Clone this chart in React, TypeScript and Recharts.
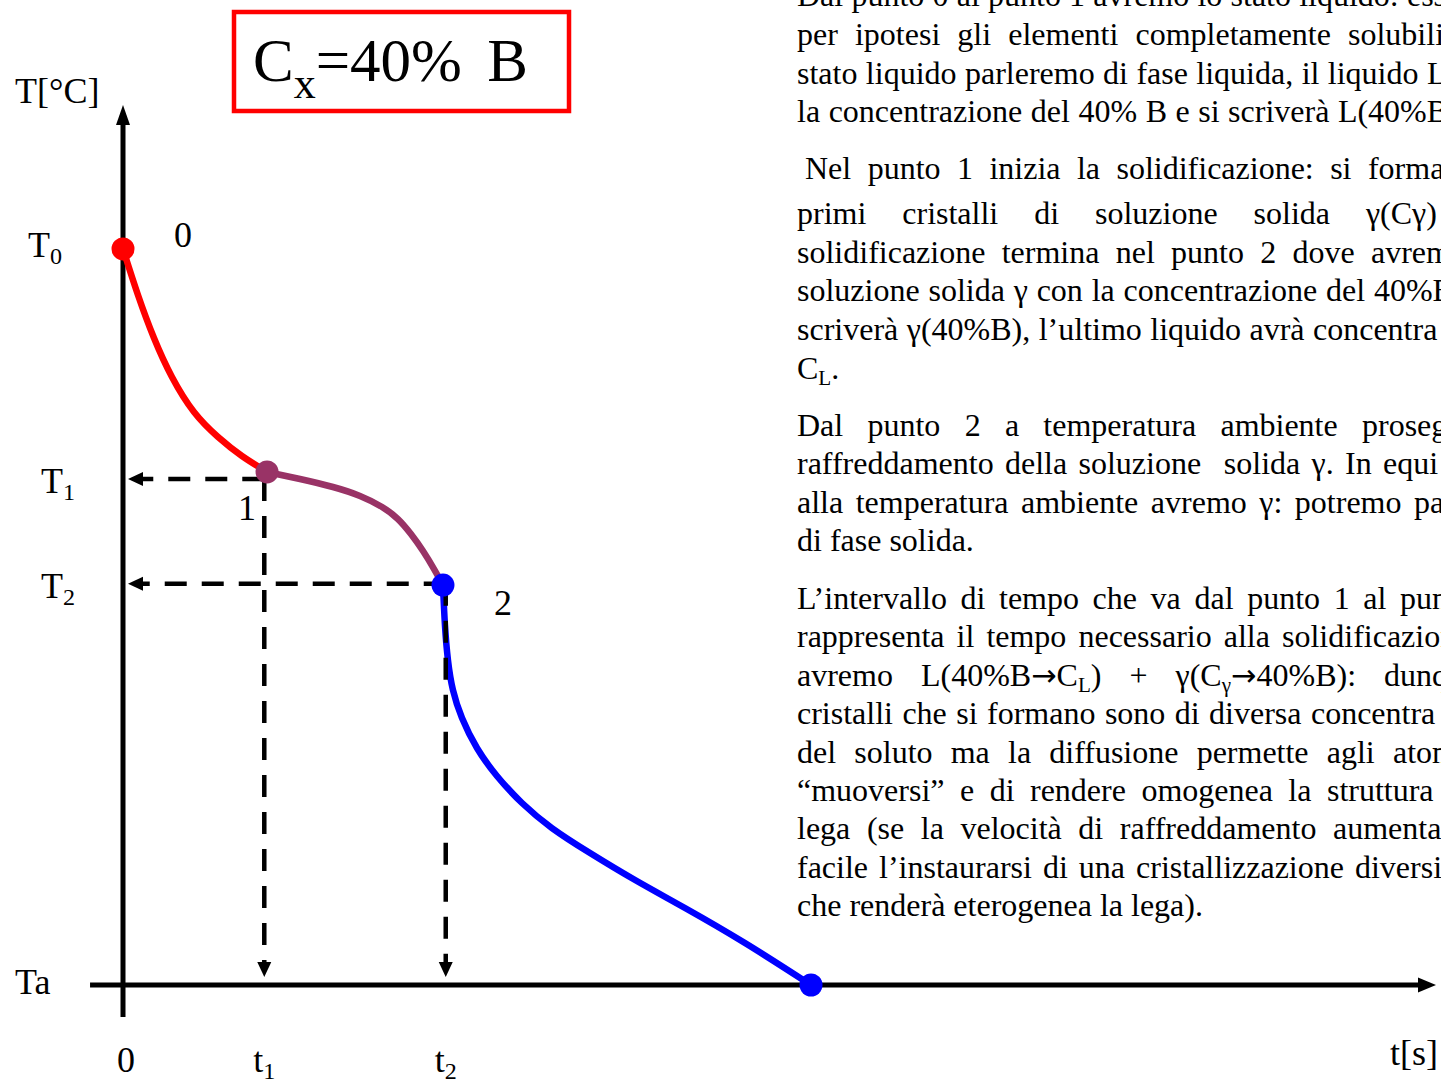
import React from "react";
import {
  ComposedChart,
  Line,
  XAxis,
  YAxis,
  ReferenceLine,
  ReferenceDot,
  Label,
} from "recharts";

// Cooling curve of an alloy with 40% B (time and temperature in arbitrary units)
const liquidTime = [0, 1.14, 2.36, 3.73, 5.41, 7.24, 9.06, 10.97];
const liquidTemp = [83.64, 78.41, 73.52, 69.09, 65.11, 62.27, 60.11, 58.3];

const mushyTime = [10.97, 13.48, 15.99, 18.05, 19.73, 20.94, 21.93, 22.85, 23.69, 24.37];
const mushyTemp = [58.3, 57.5, 56.59, 55.57, 54.32, 52.95, 51.25, 49.32, 47.27, 45.45];

const solidTime = [24.37, 24.52, 24.75, 25.13, 25.82, 26.96, 28.48, 30.39, 32.67, 35.57, 39.0, 42.8, 47.37, 52.4];
const solidTemp = [45.45, 40.91, 36.93, 33.52, 30.34, 26.93, 23.75, 20.68, 17.84, 15.0, 11.93, 8.75, 4.77, 0];

// Key points of the curve: 0 (start), 1 (start of solidification), 2 (end), room temperature
const keyTime = [0, 10.97, 24.37, 52.4];
const keyTemp = [83.64, 58.3, 45.45, 0];
const keyNames = ["0", "1", "2", ""];

// Characteristic temperatures and times
const T0 = 83.64;
const T1 = 57.5;
const T2 = 45.6;
const Ta = 0;
const t1 = 10.76;
const t2 = 24.58;

const yTickValues = [T0, T1, T2, Ta];
const yTickNames = ["T_0", "T_1", "T_2", "Ta"];
const xTickValues = [0, t1, t2];
const xTickNames = ["0", "t_1", "t_2"];

const yAxisName = "T[°C]";
const xAxisName = "t[s]";
const alloyTitle = { main: "C", sub: "x", rest: "=40%", tail: " B" };

// Explanatory text, line by line (justified lines carry the x where their last word begins)
type TextRow = { text: string; base: number; end?: number };
const paragraphLiquid: TextRow[] = [
  { text: "Dal punto 0 al punto 1 avremo lo stato liquido: ess", base: 6, end: 1407 },
  { text: "per ipotesi gli elementi completamente solubili", base: 45, end: 1348 },
  { text: "stato liquido parleremo di fase liquida, il liquido L", base: 84, end: 1427 },
  { text: "la concentrazione del 40% B e si scriverà L(40%B", base: 122, end: 1338 },
];
const paragraphSolidification: TextRow[] = [
  { text: "\u00a0Nel punto 1 inizia la solidificazione: si forma", base: 179, end: 1368 },
  { text: "primi cristalli di soluzione solida γ(Cγ)", base: 224, end: 1366 },
  { text: "solidificazione termina nel punto 2 dove avrem", base: 263, end: 1371 },
  { text: "soluzione solida γ con la concentrazione del 40%B", base: 301, end: 1374 },
  { text: "scriverà γ(40%B), l’ultimo liquido avrà concentra", base: 340, end: 1313 },
  { text: "C_{L}.", base: 379 },
];
const paragraphSolid: TextRow[] = [
  { text: "Dal punto 2 a temperatura ambiente proseg", base: 436, end: 1362 },
  { text: "raffreddamento della soluzione  solida γ. In equi", base: 474, end: 1383 },
  { text: "alla temperatura ambiente avremo γ: potremo pa", base: 513, end: 1414 },
  { text: "di fase solida.", base: 551 },
];
const paragraphInterval: TextRow[] = [
  { text: "L’intervallo di tempo che va dal punto 1 al pun", base: 609, end: 1400 },
  { text: "rappresenta il tempo necessario alla solidificazion", base: 647, end: 1282 },
  { text: "avremo L(40%B→C_{L}) + γ(C_{γ}→40%B): dunq", base: 686, end: 1384 },
  { text: "cristalli che si formano sono di diversa concentra", base: 724, end: 1311 },
  { text: "del soluto ma la diffusione permette agli atom", base: 763, end: 1393 },
  { text: "“muoversi” e di rendere omogenea la struttura", base: 801, end: 1327 },
  { text: "lega (se la velocità di raffreddamento aumenta", base: 839, end: 1333 },
  { text: "facile l’instaurarsi di una cristallizzazione diversi", base: 878, end: 1355 },
  { text: "che renderà eterogenea la lega).", base: 916 },
];

const zip = (xs: number[], ys: number[]) => xs.map((t, i) => ({ t, T: ys[i] }));
const liquidData = zip(liquidTime, liquidTemp);
const mushyData = zip(mushyTime, mushyTemp);
const solidData = zip(solidTime, solidTemp);

// ---- styling / layout ----
const SERIF = '"Liberation Serif", "Times New Roman", serif';
const W = 1441;
const H = 1079;
const RED = "#ff0000";
const PURPLE = "#993366";
const BLUE = "#0000ff";
const keyColors = [RED, PURPLE, BLUE, BLUE];
const keyLabelOffset = [
  [60, -2],
  [-20, 48],
  [60, 30],
  [0, 0],
];
const yLabelDx = [-95, -82, -82, -108];
const yLabelDy = [8, 14, 14, 9];

const TEXT_LEFT = 797;

function SubText({ x, y, text, size, anchor }: { x: number; y: number; text: string; size: number; anchor: "start" | "middle" | "end" }) {
  const [main, sub] = text.split("_");
  return (
    <text x={x} y={y} fontSize={size} textAnchor={anchor} fontFamily={SERIF} fill="#000">
      {main}
      {sub !== undefined && (
        <tspan fontSize={size * 0.67} dy={size * 0.2}>
          {sub}
        </tspan>
      )}
    </text>
  );
}

const YTick = (props: any) => {
  const { x, y, payload } = props;
  const i = yTickValues.indexOf(payload.value);
  if (i < 0) return null;
  return <SubText x={x + yLabelDx[i]} y={y + yLabelDy[i]} text={yTickNames[i]} size={36} anchor="start" />;
};

const XTick = (props: any) => {
  const { x, y, payload } = props;
  const i = xTickValues.indexOf(payload.value);
  if (i < 0) return null;
  return <SubText x={x + (i === 0 ? 3 : 0)} y={y + 87} text={xTickNames[i]} size={36} anchor="middle" />;
};

type Dir = "up" | "down" | "left" | "right";
const arrowHead = (dir: Dir, len: number, half: number) => (p: any) => {
  const { cx, cy } = p;
  let pts = "";
  if (dir === "up") pts = `${cx},${cy} ${cx - half},${cy + len} ${cx + half},${cy + len}`;
  if (dir === "down") pts = `${cx},${cy} ${cx - half},${cy - len} ${cx + half},${cy - len}`;
  if (dir === "left") pts = `${cx},${cy} ${cx + len},${cy - half} ${cx + len},${cy + half}`;
  if (dir === "right") pts = `${cx},${cy} ${cx - len},${cy - half} ${cx - len},${cy + half}`;
  return <polygon points={pts} fill="#000" />;
};

const keyDot = (i: number) => (p: any) => {
  const { cx, cy } = p;
  const [dx, dy] = keyLabelOffset[i];
  return (
    <g>
      <circle cx={cx} cy={cy} r={11.5} fill={keyColors[i]} />
      {keyNames[i] && (
        <text x={cx + dx} y={cy + dy} fontSize={36} textAnchor="middle" fontFamily={SERIF} fill="#000">
          {keyNames[i]}
        </text>
      )}
    </g>
  );
};

// Renders "_{..}" as a subscript and draws arrows with a wider glyph
function Rich({ text }: { text: string }) {
  const parts = text.split(/(_\{[^}]*\}|→)/);
  return (
    <>
      {parts.map((p, i) => {
        if (p.startsWith("_{"))
          return (
            <sub key={i} style={{ fontSize: "0.66em", verticalAlign: "-0.3em", lineHeight: 0 }}>
              {p.slice(2, -1)}
            </sub>
          );
        if (p === "→")
          return (
            <span key={i} style={{ fontFamily: '"DejaVu Sans", sans-serif', fontSize: "0.95em" }}>
              {p}
            </span>
          );
        return <React.Fragment key={i}>{p}</React.Fragment>;
      })}
    </>
  );
}

const rowBase: React.CSSProperties = {
  position: "absolute",
  left: TEXT_LEFT,
  whiteSpace: "pre",
  lineHeight: "38.4px",
  fontSize: 32,
  color: "#000",
};

function Row({ row }: { row: TextRow }) {
  const top = row.base - 30;
  if (row.end === undefined) {
    return (
      <div style={{ ...rowBase, top }}>
        <Rich text={row.text} />
      </div>
    );
  }
  const words = row.text.split(" ");
  return (
    <div
      style={{
        ...rowBase,
        top,
        width: row.end - TEXT_LEFT,
        display: "flex",
        justifyContent: "space-between",
        alignItems: "baseline",
      }}
    >
      {words.map((w, i) => (
        <span
          key={i}
          style={i === words.length - 1 ? { flex: "0 0 0px", width: 0, overflow: "visible" } : { flex: "0 0 auto" }}
        >
          <Rich text={w} />
        </span>
      ))}
    </div>
  );
}

const DASH = "22 15";

export default function App() {
  const rows = [...paragraphLiquid, ...paragraphSolidification, ...paragraphSolid, ...paragraphInterval];
  return (
    <div
      style={{
        position: "absolute",
        left: 0,
        top: 0,
        width: W,
        height: H,
        overflow: "hidden",
        background: "#fff",
        fontFamily: SERIF,
      }}
    >
      <div style={{ position: "absolute", left: 0, top: 0 }}>
        <ComposedChart width={W} height={H} margin={{ top: 105, right: 5, bottom: 0, left: 0 }}>
          <XAxis
            type="number"
            dataKey="t"
            domain={[0, 100]}
            ticks={xTickValues}
            interval={0}
            height={94}
            axisLine={false}
            tickLine={false}
            tickSize={0}
            tickMargin={0}
            tick={<XTick />}
          >
            <Label
              content={(p: any) => {
                const vb = p.viewBox || { x: 123, y: 985, width: 1313 };
                return (
                  <text x={vb.x + vb.width - 46} y={vb.y + 80} fontSize={36} fontFamily={SERIF} fill="#000">
                    {xAxisName}
                  </text>
                );
              }}
            />
          </XAxis>
          <YAxis
            type="number"
            dataKey="T"
            domain={[0, 100]}
            ticks={yTickValues}
            interval={0}
            width={123}
            axisLine={false}
            tickLine={false}
            tickSize={0}
            tickMargin={0}
            tick={<YTick />}
          >
            <Label
              content={(p: any) => {
                const vb = p.viewBox || { x: 0, y: 105 };
                return (
                  <text x={vb.x + 15} y={vb.y - 2} fontSize={36} fontFamily={SERIF} fill="#000">
                    {yAxisName}
                  </text>
                );
              }}
            />
          </YAxis>

          {/* axes with arrows */}
          <ReferenceLine
            segment={[{ x: 0, y: -3.64 }, { x: 0, y: 98 }]}
            stroke="#000"
            strokeWidth={5}
            ifOverflow="visible"
          />
          <ReferenceLine
            segment={[{ x: -2.51, y: Ta }, { x: 98.8, y: Ta }]}
            stroke="#000"
            strokeWidth={5}
            ifOverflow="visible"
          />
          <ReferenceDot x={0} y={100} r={1} ifOverflow="visible" shape={arrowHead("up", 20, 7)} />
          <ReferenceDot x={100} y={Ta} r={1} ifOverflow="visible" shape={arrowHead("right", 18, 7.5)} />

          {/* cooling curve */}
          <Line data={liquidData} dataKey="T" type="natural" stroke={RED} strokeWidth={6.5} dot={false} activeDot={false} isAnimationActive={false} />
          <Line data={mushyData} dataKey="T" type="natural" stroke={PURPLE} strokeWidth={6.5} dot={false} activeDot={false} isAnimationActive={false} />
          <Line data={solidData} dataKey="T" type="natural" stroke={BLUE} strokeWidth={6.5} dot={false} activeDot={false} isAnimationActive={false} />

          {keyTime.map((t, i) => (
            <ReferenceDot key={`k${i}`} x={t} y={keyTemp[i]} r={11.5} ifOverflow="visible" shape={keyDot(i)} />
          ))}

          {/* projections of points 1 and 2 onto the axes */}
          <ReferenceLine segment={[{ x: t1, y: T1 }, { x: 1.45, y: T1 }]} stroke="#000" strokeWidth={4.5} strokeDasharray={DASH} ifOverflow="visible" />
          <ReferenceLine segment={[{ x: t1, y: T1 }, { x: t1, y: 2.6 }]} stroke="#000" strokeWidth={4.5} strokeDasharray={DASH} ifOverflow="visible" />
          <ReferenceLine segment={[{ x: t2, y: T2 }, { x: 1.45, y: T2 }]} stroke="#000" strokeWidth={4.5} strokeDasharray={DASH} ifOverflow="visible" />
          <ReferenceLine segment={[{ x: t2, y: T2 }, { x: t2, y: 2.6 }]} stroke="#000" strokeWidth={4.5} strokeDasharray={DASH} ifOverflow="visible" />
          <ReferenceDot x={0.38} y={T1} r={1} ifOverflow="visible" shape={arrowHead("left", 15, 7)} />
          <ReferenceDot x={0.38} y={T2} r={1} ifOverflow="visible" shape={arrowHead("left", 15, 7)} />
          <ReferenceDot x={t1} y={0.91} r={1} ifOverflow="visible" shape={arrowHead("down", 15, 7)} />
          <ReferenceDot x={t2} y={0.91} r={1} ifOverflow="visible" shape={arrowHead("down", 15, 7)} />
        </ComposedChart>
      </div>

      {/* alloy composition box */}
      <svg width={600} height={130} style={{ position: "absolute", left: 0, top: 0 }}>
        <rect x={234} y={12} width={335} height={99} fill="none" stroke={RED} strokeWidth={4.5} />
        <text x={253} y={81} fontSize={61} fontFamily={SERIF} fill="#000" xmlSpace="preserve">
          {alloyTitle.main}
          <tspan fontSize={44} dy={17}>
            {alloyTitle.sub}
          </tspan>
          <tspan dy={-17}>{alloyTitle.rest}</tspan>
          <tspan dx={10}>{alloyTitle.tail}</tspan>
        </text>
      </svg>

      {rows.map((r, i) => (
        <Row key={i} row={r} />
      ))}
    </div>
  );
}
